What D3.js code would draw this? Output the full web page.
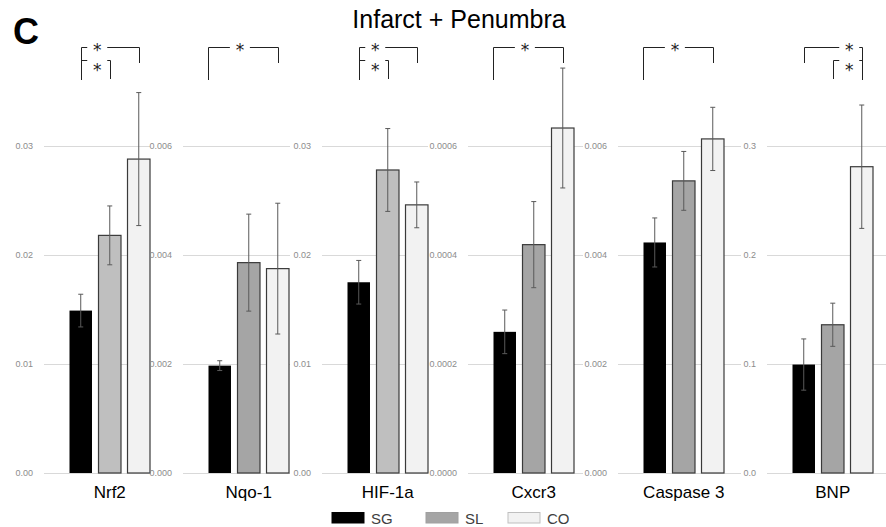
<!DOCTYPE html>
<html>
<head>
<meta charset="utf-8">
<script src="https://cdn.jsdelivr.net/npm/d3@7"></script>
<style>
  body { margin: 0; background: #fff; }
  svg { font-family: "Liberation Sans", Arial, sans-serif; }
</style>
</head>
<body>
<svg width="886" height="527"></svg>
<script>
// data
var genes = ["Nrf2", "Nqo-1", "HIF-1a", "Cxcr3", "Caspase 3", "BNP"];
var groups = ["SG", "SL", "CO"];
var sgValues = [0.0149, 0.00197, 0.0175, 0.000259, 0.00423, 0.0995];
var slValues = [0.0218, 0.00386, 0.0278, 0.000419, 0.00536, 0.136];
var coValues = [0.0288, 0.00375, 0.0246, 0.000633, 0.00613, 0.281];
var sgErrors = [0.0015, 0.00009, 0.0020, 0.00004, 0.00045, 0.0235];
var slErrors = [0.0027, 0.00089, 0.0038, 0.000079, 0.00054, 0.0198];
var coErrors = [0.0061, 0.00120, 0.0021, 0.00011, 0.00058, 0.0566];
var axisMax = [0.03, 0.006, 0.03, 0.0006, 0.006, 0.3];
var tickFormats = [".2f", ".3f", ".2f", ".4f", ".3f", ".1f"];
// significance brackets per gene
var sigPairs = [
    [["SG", "CO"], ["SG", "SL"]],
    [["SG", "CO"]],
    [["SG", "CO"], ["SG", "SL"]],
    [["SG", "CO"]],
    [["SG", "CO"]],
    [["SG", "CO"], ["SL", "CO"]]
];

// layout / styles
var gridStart = [44, 183, 322, 468, 618, 767],
    gridEnd = [150, 290, 428, 583, 741, 886],
    slFill = ["#bfbfbf", "#a5a5a5", "#bfbfbf", "#a5a5a5", "#a5a5a5", "#a5a5a5"],
    edgeLeft = [false, true, false, true, true, false],
    baseY = 473, topY = 146;

var svg = d3.select("svg");
var values = [sgValues, slValues, coValues],
    errors = [sgErrors, slErrors, coErrors];

svg.append("text").attr("x", 13).attr("y", 44)
    .attr("font-size", 36).attr("font-weight", "bold").text("C");
svg.append("text").attr("x", 459).attr("y", 28).attr("text-anchor", "middle")
    .attr("font-size", 25).text("Infarct + Penumbra");

genes.forEach(function(gene, i) {
    var y = d3.scaleLinear().domain([0, axisMax[i]]).range([baseY, topY]);
    var x = d3.scaleBand().domain(groups)
        .range([gridStart[i] + 25, gridStart[i] + 25 + 81.5])
        .paddingInner(0.19).paddingOuter(0);
    var fills = ["#000", slFill[i], "#f2f2f2"];
    var g = svg.append("g");

    // axis with gridlines
    var ax = g.append("g")
        .attr("transform", "translate(" + gridStart[i] + ",0)")
        .call(d3.axisLeft(y).tickValues(d3.range(4).map(function(k) { return axisMax[i] * k / 3; }))
            .tickFormat(d3.format(tickFormats[i]))
            .tickSize(-(gridEnd[i] - gridStart[i])).tickPadding(11));
    ax.select(".domain").remove();
    ax.selectAll(".tick line").attr("stroke", "#d9d9d9");
    ax.selectAll(".tick text").attr("fill", "#8c8c8c").attr("font-size", 9)
        .attr("font-family", "Liberation Sans, Arial, sans-serif");

    var rows = groups.map(function(grp, j) {
        return {grp: grp, v: values[j][i], e: errors[j][i], fill: fills[j]};
    });

    g.selectAll(".bar").data(rows).enter().append("rect")
        .attr("x", function(d) { return x(d.grp) + 0.5; })
        .attr("y", function(d) { return y(d.v); })
        .attr("width", x.bandwidth() - 1)
        .attr("height", function(d) { return baseY - y(d.v); })
        .attr("fill", function(d) { return d.fill; })
        .attr("stroke", function(d) { return d.grp == "SG" ? "none" : "#3a3a3a"; })
        .attr("stroke-width", 1.2);

    // error bars
    var eb = g.selectAll(".err").data(rows).enter().append("g")
        .attr("stroke", "#5a5a5a").attr("stroke-width", 1);
    eb.append("line")
        .attr("x1", function(d) { return x(d.grp) + x.bandwidth() / 2; })
        .attr("x2", function(d) { return x(d.grp) + x.bandwidth() / 2; })
        .attr("y1", function(d) { return y(d.v + d.e); })
        .attr("y2", function(d) { return y(d.v - d.e); });
    [1, -1].forEach(function(s) {
        eb.append("line")
            .attr("x1", function(d) { return x(d.grp) + x.bandwidth() / 2 - 2.5; })
            .attr("x2", function(d) { return x(d.grp) + x.bandwidth() / 2 + 2.5; })
            .attr("y1", function(d) { return y(d.v + s * d.e); })
            .attr("y2", function(d) { return y(d.v + s * d.e); });
    });

    g.append("text")
        .attr("x", (x("SG") + x("CO") + x.bandwidth()) / 2)
        .attr("y", 498).attr("text-anchor", "middle")
        .attr("font-size", 17).text(gene);

    // significance brackets
    var pairs = sigPairs[i];
    var shared = pairs[0][0];
    if (pairs.length > 1) {
        shared = pairs[0].filter(function(p) { return pairs[1].indexOf(p) >= 0; })[0];
    }
    var cx = function(grp) {
        if (edgeLeft[i] && grp == "SG") return x(grp);
        return x(grp) + x.bandwidth() / 2;
    };
    var starX;
    if (pairs.length > 1) {
        starX = (cx(pairs[1][0]) + cx(pairs[1][1])) / 2 + 2;
    } else {
        starX = (cx(pairs[0][0]) + cx(pairs[0][1])) / 2 - 3;
    }
    var br = g.append("g").attr("stroke", "#222").attr("stroke-width", 1).attr("fill", "none");
    pairs.forEach(function(p, lvl) {
        var other = p[0] == shared ? p[1] : p[0];
        var xs = Math.round(cx(shared)) + 0.5, xo = Math.round(cx(other)) + 0.5;
        var lo = Math.min(xs, xo), hi = Math.max(xs, xo);
        var ty = lvl == 0 ? 47.5 : 60.5;
        br.append("line").attr("x1", lo).attr("x2", starX - 10).attr("y1", ty).attr("y2", ty);
        br.append("line").attr("x1", starX + 10).attr("x2", hi).attr("y1", ty).attr("y2", ty);
        if (lvl == 0) {
            br.append("line").attr("x1", xs).attr("x2", xs).attr("y1", ty).attr("y2", 80);
            br.append("line").attr("x1", xo).attr("x2", xo).attr("y1", ty).attr("y2", 63);
        } else {
            br.append("line").attr("x1", xo).attr("x2", xo).attr("y1", ty).attr("y2", 79);
        }
        g.append("text").attr("x", starX).attr("y", lvl == 0 ? 56 : 76)
            .attr("text-anchor", "middle").attr("font-family", "DejaVu Sans")
            .attr("font-size", 17).attr("fill", "#222").text("*");
    });
});

// legend
var legendX = [332, 426, 508];
var legendFills = ["#000", "#a5a5a5", "#f2f2f2"],
    legendStroke = ["#000", "#a0a0a0", "#bfbfbf"];
var lg = svg.append("g").selectAll("g").data(groups).enter().append("g")
    .attr("transform", function(d, k) { return "translate(" + legendX[k] + ",512.5)"; });
lg.append("rect").attr("width", 32).attr("height", 10.5)
    .attr("fill", function(d, k) { return legendFills[k]; })
    .attr("stroke", function(d, k) { return legendStroke[k]; });
lg.append("text").attr("x", 39).attr("y", 11.5).attr("font-size", 15)
    .attr("fill", "#404040").text(function(d) { return d; });
</script>
</body>
</html>
